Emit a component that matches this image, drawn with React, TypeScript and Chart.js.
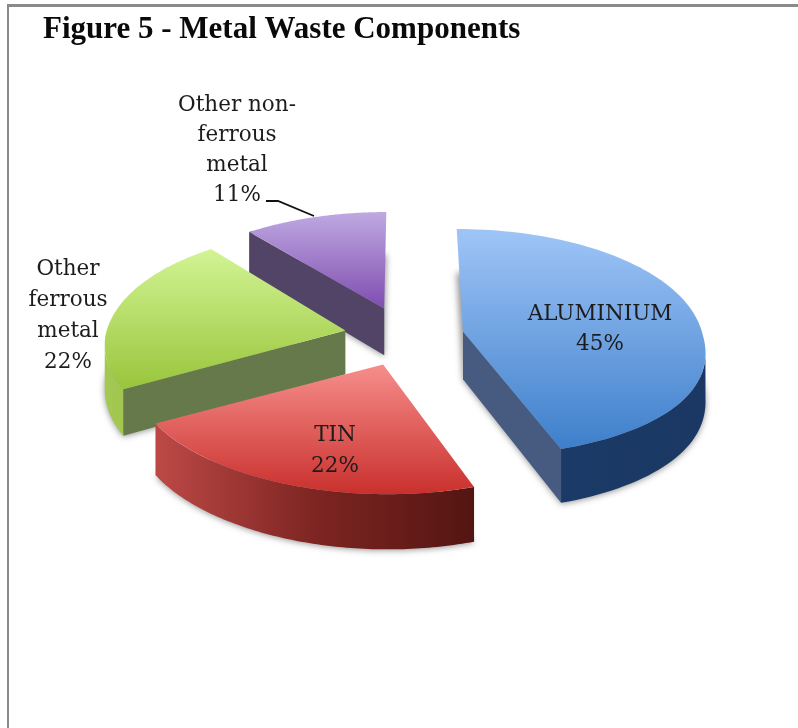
import React, { useEffect, useRef } from "react";
import { Chart, registerables } from "chart.js";

Chart.register(...registerables);

// Metal waste shares, percent
const categories = ["ALUMINIUM", "TIN", "Other ferrous metal", "Other non-ferrous metal"];
const shares = [45, 22, 22, 11];

// Line breaks used in the slice captions
const captionLines = [["ALUMINIUM"], ["TIN"], ["Other", "ferrous", "metal"], ["Other non-", "ferrous", "metal"]];

// Slice colours: top face gradient, radial wall, outer wall gradient
const topColours = [
  ["#9fc5f7", "#3e7fcb"],
  ["#f68e8b", "#c9302d"],
  ["#d2f494", "#99c53c"],
  ["#bfa9e2", "#7f4db0"],
];
const radialWallColours = ["#475a80", "#7a2320", "#65794b", "#524466"];
const outerWallColours = [
  ["#1d3b69", "#1a3863"],
  ["#bd4946", "#7d2522", "#541512"],
  ["#a3c952", "#8aad3f"],
  ["#524466", "#524466"],
];
const sliceDepths = [48, 47, 44, 48];

// Back-to-front painting order of the slices
const paintOrder = [3, 2, 0, 1];

// Projection of the pie plane
const TILT = 0.465;
const PERSPECTIVE = 0.0005;
const FRONT_SKEW = 0.033;
const SERIF = "'DejaVu Serif', serif";

type Pt = { x: number; y: number };

const project = (px: number, py: number, drop: number, cx: number, cy: number): Pt => {
  const u = px - cx;
  const v = py - cy;
  const s = 1 / (1 - PERSPECTIVE * v);
  const sag = 6 * Math.exp(-(((v - 90) / 140) ** 2));
  return {
    x: cx + u * s + FRONT_SKEW * Math.max(v, 0),
    y: cy + TILT * v * s + drop * s + sag,
  };
};

const trace = (ctx: CanvasRenderingContext2D, pts: Pt[], shift = 0) => {
  ctx.beginPath();
  pts.forEach((p, i) => (i ? ctx.lineTo(p.x + shift, p.y) : ctx.moveTo(p.x + shift, p.y)));
  ctx.closePath();
};

const ramp = (ctx: CanvasRenderingContext2D, x0: number, y0: number, x1: number, y1: number, stops: string[]) => {
  const g = ctx.createLinearGradient(x0, y0, x1, y1);
  stops.forEach((c, i) => g.addColorStop(i / (stops.length - 1), c));
  return g;
};

// Paints the pie arcs as extruded slices on a tilted plane
const tiltedSlices = {
  id: "tiltedSlices",
  beforeDatasetsDraw(chart: any) {
    const ctx: CanvasRenderingContext2D = chart.ctx;
    const arcs = chart.getDatasetMeta(0).data;
    for (const index of paintOrder) {
      const arc = arcs[index];
      const { x, y, startAngle, endAngle, outerRadius } = arc.getProps(["x", "y", "startAngle", "endAngle", "outerRadius"], true);
      const depth = sliceDepths[index];
      const mid = (startAngle + endAngle) / 2;
      const ox = x + arc.options.offset * Math.cos(mid);
      const oy = y + arc.options.offset * Math.sin(mid);
      const rim = (drop: number) => {
        const pts: Pt[] = [];
        for (let i = 0; i <= 90; i++) {
          const a = startAngle + ((endAngle - startAngle) * i) / 90;
          pts.push(project(ox + outerRadius * Math.cos(a), oy + outerRadius * Math.sin(a), drop, x, y));
        }
        return pts;
      };
      const apexTop = project(ox, oy, 0, x, y);
      const apexBottom = project(ox, oy, depth, x, y);
      const rimTop = rim(0);
      const rimBottom = rim(depth);
      const top = [apexTop, ...rimTop];
      const bottom = [apexBottom, ...rimBottom];
      const xs = top.map((p) => p.x);
      const ys = top.map((p) => p.y);
      const minX = Math.min(...xs);
      const maxX = Math.max(...xs);
      const minY = Math.min(...ys);
      const maxY = Math.max(...ys);
      const radialWalls = [
        [apexTop, rimTop[0], rimBottom[0], apexBottom],
        [apexTop, rimTop[90], rimBottom[90], apexBottom],
      ];

      // Soft shadow only: the base is drawn off-canvas and its shadow falls back in place
      const away = 3000;
      ctx.save();
      ctx.shadowColor = "rgba(0,0,0,0.42)";
      ctx.shadowBlur = 6;
      ctx.shadowOffsetX = away;
      ctx.shadowOffsetY = 1;
      ctx.fillStyle = "#000000";
      trace(ctx, bottom, -away);
      ctx.fill();
      ctx.restore();

      // Walls are painted only where they face the viewer, below the top face's edge
      trace(ctx, top);
      const facesViewer = (a: Pt, b: Pt) => !ctx.isPointInPath((a.x + b.x) / 2, (a.y + b.y) / 2 + 4);
      const visibleRim = rimTop.map((_, i) => i).filter((i) => i > 0 && facesViewer(rimTop[i - 1], rimTop[i]));
      // A nearly vertical radial edge is seen end-on, so its wall stays hidden
      const facing = radialWalls.filter(
        (wall) => facesViewer(wall[0], wall[1]) && Math.abs(wall[1].y - wall[0].y) < 10 * Math.abs(wall[1].x - wall[0].x),
      );

      if (visibleRim.length) {
        const from = visibleRim[0] - 1;
        const to = visibleRim[visibleRim.length - 1] + 1;
        const outer = [...rimTop.slice(from, to), ...rimBottom.slice(from, to).reverse()];
        ctx.fillStyle = ramp(ctx, minX, 0, maxX, 0, outerWallColours[index]);
        trace(ctx, outer);
        ctx.fill();
      }

      ctx.fillStyle = radialWallColours[index];
      for (const wall of facing) {
        trace(ctx, wall);
        ctx.fill();
      }

      ctx.fillStyle = ramp(ctx, 0, minY, 0, maxY, topColours[index]);
      trace(ctx, top);
      ctx.fill();
    }
    return false;
  },
};

// Slice captions and the leader line of the smallest slice
const sliceCaptions = {
  id: "sliceCaptions",
  afterDraw(chart: any) {
    const ctx: CanvasRenderingContext2D = chart.ctx;
    const anchors = [
      { x: 600, y: 314, step: 30 },
      { x: 335, y: 435, step: 31 },
      { x: 68, y: 269, step: 31 },
      { x: 237, y: 105, step: 30 },
    ];
    ctx.save();
    ctx.font = `21.5px ${SERIF}`;
    ctx.fillStyle = "#1c1c1c";
    ctx.textAlign = "center";
    ctx.textBaseline = "middle";
    categories.forEach((_, i) => {
      const lines = [...captionLines[i], `${shares[i]}%`];
      lines.forEach((line, k) => ctx.fillText(line, anchors[i].x, anchors[i].y + k * anchors[i].step));
    });
    ctx.strokeStyle = "#111111";
    ctx.lineWidth = 1.8;
    ctx.beginPath();
    ctx.moveTo(266, 201);
    ctx.lineTo(278, 201);
    ctx.lineTo(314, 216);
    ctx.stroke();
    ctx.restore();
  },
};

export default function App() {
  const ref = useRef<HTMLCanvasElement>(null);
  useEffect(() => {
    const chart = new Chart(ref.current!, {
      type: "pie",
      data: {
        labels: categories,
        datasets: [{ data: shares, backgroundColor: topColours.map((c) => c[0]), borderWidth: 0, offset: 60 }],
      },
      options: {
        animation: false,
        responsive: false,
        radius: 240,
        rotation: 0,
        layout: { padding: { left: 43, right: 33, top: 11, bottom: 112 } },
        plugins: {
          legend: { display: false },
          tooltip: { enabled: false },
          title: {
            display: true,
            text: "Figure 5 - Metal Waste Components",
            align: "start",
            color: "#0a0a0a",
            font: { family: "'Liberation Serif', serif", size: 31, weight: "bold", lineHeight: 1.2 },
            padding: 0,
          },
        },
      },
      plugins: [tiltedSlices, sliceCaptions],
    } as any);
    return () => chart.destroy();
  }, []);
  return (
    <div
      style={{
        position: "absolute",
        left: 0,
        top: 0,
        width: 798,
        height: 728,
        background: "#ffffff",
        overflow: "hidden",
      }}
    >
      <div style={{ position: "absolute", left: 7, top: 4, right: 0, height: 2.5, background: "#8a8a8a" }} />
      <div style={{ position: "absolute", left: 7, top: 4, bottom: 0, width: 2, background: "#8a8a8a" }} />
      <canvas ref={ref} width={798} height={728} style={{ position: "absolute", left: 0, top: 0 }} />
    </div>
  );
}
